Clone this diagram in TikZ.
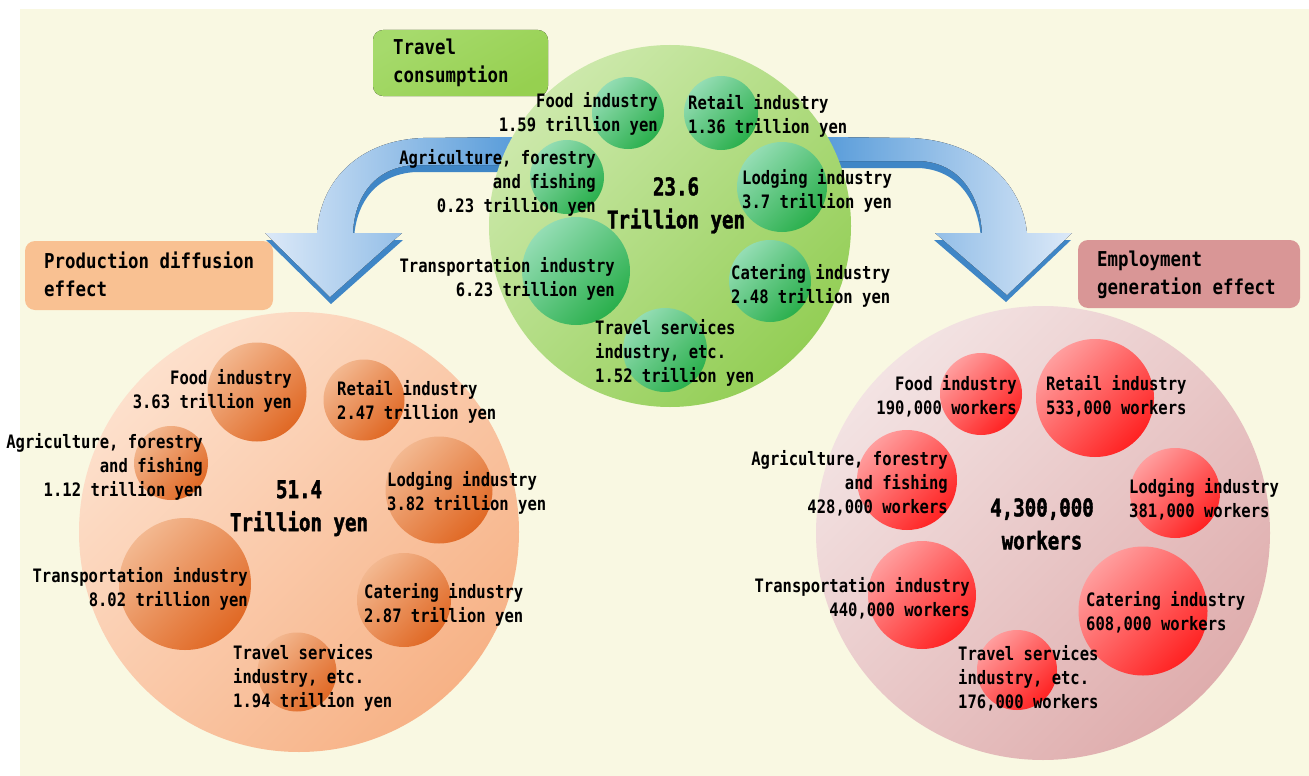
\documentclass[tikz,border=0pt]{standalone}
\usepackage{fontspec}
\newfontfamily\labfam{DejaVu Sans Mono}[FakeStretch=0.84]
\newfontfamily\boxfam{DejaVu Sans Mono}[FakeStretch=0.85]
\newfontfamily\bigfam{DejaVu Sans Mono}[FakeStretch=0.78, FakeBold=1.6]
\newcommand\lbf{\labfam\bfseries\fontsize{18.5}{24}\selectfont}
\newcommand\bxf{\boxfam\bfseries\fontsize{20.5}{27.5}\selectfont}
\newcommand\bgf{\bigfam\bfseries\fontsize{24.5}{33}\selectfont}
\definecolor{bgc}{HTML}{F9F8E2}
\definecolor{gbA}{HTML}{CDE9AC}
\definecolor{gbB}{HTML}{93CE55}
\definecolor{gsA}{HTML}{94DDB4}
\definecolor{gsB}{HTML}{2AAF4C}
\definecolor{obA}{HTML}{FDE0CC}
\definecolor{obB}{HTML}{F7B286}
\definecolor{osA}{HTML}{F3B890}
\definecolor{osB}{HTML}{E06824}
\definecolor{pbA}{HTML}{F3E3E3}
\definecolor{pbB}{HTML}{DFADAD}
\definecolor{psA}{HTML}{FF9E9E}
\definecolor{psB}{HTML}{FF2222}
\definecolor{arA}{HTML}{DCE9F8}
\definecolor{arM}{HTML}{A6C9EE}
\definecolor{arB}{HTML}{5A9DDA}
\definecolor{arD}{HTML}{3F86C6}
\definecolor{gbox}{HTML}{A6DA6C}
\definecolor{gboxB}{HTML}{96D050}
\definecolor{obox}{HTML}{F9C192}
\definecolor{pbox}{HTML}{D99696}
\tikzset{
  bigc/.style={circle, inner sep=0},
  gsub/.style={circle, inner sep=0, top color=gsA, bottom color=gsB, shading angle=45},
  osub/.style={circle, inner sep=0, top color=osA, bottom color=osB, shading angle=45},
  psub/.style={circle, inner sep=0, top color=psA, bottom color=psB, shading angle=45},
  lr/.style={font=\lbf, align=right, anchor=north east, inner sep=0},
  ll/.style={font=\lbf, align=left, anchor=north west, inner sep=0},
  tot/.style={font=\bgf, align=center, anchor=north, inner sep=0},
  boxt/.style={font=\bxf, align=left, anchor=north west, inner sep=0},
  labbox/.style={rounded corners=10pt, inner sep=0},
}
\begin{document}
\begin{tikzpicture}[x=1pt, y=-1pt]
\useasboundingbox (0,0) rectangle (1309,776);
\fill[white] (0,0) rectangle (1309,776);
\fill[bgc] (20,9) rectangle (1309,776);

% left arrow
\begin{scope}[shift={(1,7)}]
\fill[arD] (512,137) -- (423,138) .. controls (360,140) and (320,180) .. (317,233) -- (265,233) -- (330,297) -- (402,233) -- (353,233) .. controls (354,200) and (372,167) .. (415,165) -- (512,165) -- cycle;
\end{scope}
\fill[left color=arA, middle color=arM, right color=arB] (512,137) -- (423,138) .. controls (360,140) and (320,180) .. (317,233) -- (265,233) -- (330,297) -- (402,233) -- (353,233) .. controls (354,200) and (372,167) .. (415,165) -- (512,165) -- cycle;

% right arrow
\begin{scope}[shift={(-1,7)}]
\fill[arD] (828,137) -- (910,138) .. controls (975,140) and (1022,180) .. (1027,233) -- (1072,233) -- (1007,295) -- (935,233) -- (982,233) .. controls (980,195) and (960,163) .. (920,161) -- (828,161) -- cycle;
\end{scope}
\fill[left color=arB, middle color=arM, right color=arA] (828,137) -- (910,138) .. controls (975,140) and (1022,180) .. (1027,233) -- (1072,233) -- (1007,295) -- (935,233) -- (982,233) .. controls (980,195) and (960,163) .. (920,161) -- (828,161) -- cycle;

% big circles
\node[bigc, minimum size=362pt, top color=gbA, bottom color=gbB, shading angle=45] (gbig) at (670,226) {};
\node[bigc, minimum size=440pt, top color=obA, bottom color=obB, shading angle=45] (obig) at (299,532) {};
\node[bigc, minimum size=454pt, top color=pbA, bottom color=pbB, shading angle=45] (pbig) at (1043,533) {};

% green sub circles
\node[gsub, minimum size=72pt]  (gfood)   at (628,113) {};
\node[gsub, minimum size=74pt]  (gretail) at (721,113) {};
\node[gsub, minimum size=74pt]  (gagri)   at (567,177) {};
\node[gsub, minimum size=90pt]  (glodg)   at (782,187) {};
\node[gsub, minimum size=108pt] (gtrans)  at (576,271) {};
\node[gsub, minimum size=82pt]  (gcater)  at (770,281) {};
\node[gsub, minimum size=84pt]  (gtrav)   at (665,350) {};

% orange sub circles
\node[osub, minimum size=99pt]  (ofood)   at (257,392) {};
\node[osub, minimum size=81pt]  (oretail) at (364,400) {};
\node[osub, minimum size=74pt]  (oagri)   at (171,463) {};
\node[osub, minimum size=107pt] (olodg)   at (439,490) {};
\node[osub, minimum size=132pt] (otrans)  at (185,584) {};
\node[osub, minimum size=94pt]  (ocater)  at (404,600) {};
\node[osub, minimum size=79pt]  (otrav)   at (297,672) {};

% pink sub circles
\node[psub, minimum size=82pt]  (pfood)   at (981,394) {};
\node[psub, minimum size=118pt] (pretail) at (1095,398) {};
\node[psub, minimum size=100pt] (pagri)   at (907,480) {};
\node[psub, minimum size=90pt]  (plodg)   at (1175,493) {};
\node[psub, minimum size=108pt] (ptrans)  at (922,595) {};
\node[psub, minimum size=129pt] (pcater)  at (1143,611) {};
\node[psub, minimum size=80pt]  (ptrav)   at (1017,670) {};

% label boxes
\fill[labbox, top color=gbox, bottom color=gboxB, shading angle=30] (373,30) rectangle (548,96);
\node[boxt] (tcons) at (393,39) {Travel\\consumption};
\fill[labbox, obox] (25,241) rectangle (273,310);
\node[boxt] (tprod) at (44,252) {Production diffusion\\effect};
\fill[labbox, pbox] (1078,240) rectangle (1300,308);
\node[boxt] (temp) at (1097,251) {Employment\\generation effect};

% green texts
\node[lr] (gfoodt)   at (658,92)  {Food industry\\1.59 trillion yen};
\node[ll] (gretailt) at (688,94)  {Retail industry\\1.36 trillion yen};
\node[lr] (gagrit)   at (596,149) {Agriculture, forestry\\and fishing\\0.23 trillion yen};
\node[tot] (gtot)    at (676,177) {23.6\\Trillion yen};
\node[ll] (glodgt)   at (742,169) {Lodging industry\\3.7 trillion yen};
\node[lr] (gtranst)  at (615,257) {Transportation industry\\6.23 trillion yen};
\node[ll] (gcatert)  at (731,264) {Catering industry\\2.48 trillion yen};
\node[ll] (gtravt)   at (595,319) {Travel services\\industry, etc.\\1.52 trillion yen};

% orange texts
\node[lr] (ofoodt)   at (292,369) {Food industry\\3.63 trillion yen};
\node[ll] (oretailt) at (337,380) {Retail industry\\2.47 trillion yen};
\node[lr] (oagrit)   at (203,433) {Agriculture, forestry\\and fishing\\1.12 trillion yen};
\node[tot] (otot)    at (299,480) {51.4\\Trillion yen};
\node[ll] (olodgt)   at (387,471) {Lodging industry\\3.82 trillion yen};
\node[lr] (otranst)  at (248,567) {Transportation industry\\8.02 trillion yen};
\node[ll] (ocatert)  at (364,583) {Catering industry\\2.87 trillion yen};
\node[ll] (otravt)   at (233,644) {Travel services\\industry, etc.\\1.94 trillion yen};

% pink texts
\node[lr] (pfoodt)   at (1017,375) {Food industry\\190,000 workers};
\node[ll] (pretailt) at (1046,375) {Retail industry\\533,000 workers};
\node[lr] (pagrit)   at (948,450)  {Agriculture, forestry\\and fishing\\428,000 workers};
\node[tot] (ptot)    at (1042,498) {4,300,000\\workers};
\node[ll] (plodgt)   at (1129,478) {Lodging industry\\381,000 workers};
\node[lr] (ptranst)  at (970,577)  {Transportation industry\\440,000 workers};
\node[ll] (pcatert)  at (1086,591) {Catering industry\\608,000 workers};
\node[ll] (ptravt)   at (958,645)  {Travel services\\industry, etc.\\176,000 workers};
\end{tikzpicture}
\end{document}
